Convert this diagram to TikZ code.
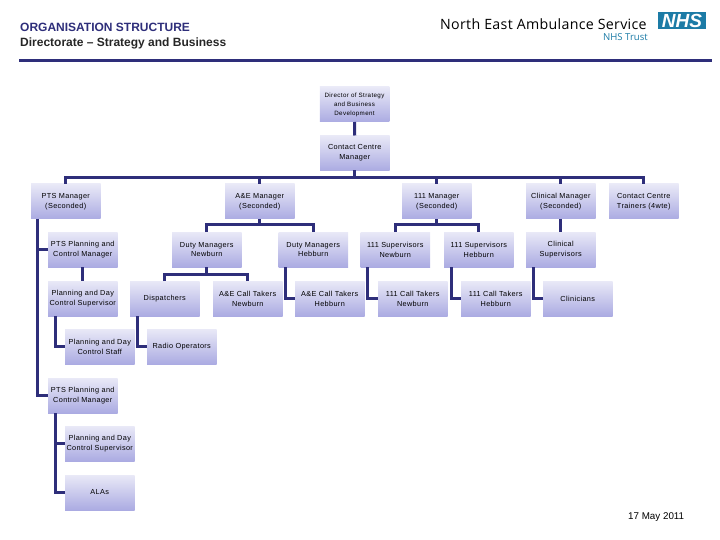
\documentclass[tikz,border=0pt]{standalone}
\usepackage{fontspec}
\setmainfont{Liberation Sans}
\newfontfamily\logofont{Open Sans}
\definecolor{navy}{HTML}{2E2E7A}
\definecolor{topc}{HTML}{E9E9F7}
\definecolor{botc}{HTML}{ABABE2}
\definecolor{nhs}{HTML}{1C7BA6}
\begin{document}
\begin{tikzpicture}[x=1pt,y=-1pt,
  box/.style={inner sep=0pt,outer sep=0pt,minimum width=69.5pt,minimum height=35pt,top color=topc,bottom color=botc,shading angle=0,align=center,font=\fontsize{7.3}{9.9}\selectfont\addfontfeatures{LetterSpace=5},text=black},
  smallbox/.style={box,font=\fontsize{6.2}{9}\selectfont\addfontfeatures{LetterSpace=6}},
  conn/.style={draw=navy,line width=3pt,line cap=butt,line join=miter},
  rulel/.style={draw=navy,line width=3pt}]
\useasboundingbox (0,0) rectangle (720,540);
\node[anchor=west,inner sep=0pt,font=\bfseries\fontsize{12}{14}\selectfont,text=navy] (t1) at (20,27.5) {ORGANISATION STRUCTURE};
\node[anchor=west,inner sep=0pt,font=\bfseries\fontsize{12}{14}\selectfont,text=black!85] (t2) at (20,43.2) {Directorate – Strategy and Business};
\coordinate (ruleL) at (19,60.5);
\coordinate (ruleR) at (712,60.5);
\draw[rulel] (ruleL) -- (ruleR);
\node[anchor=west,inner sep=0pt,font=\logofont\fontsize{14.2}{16}\selectfont\addfontfeatures{LetterSpace=2.2},text=black] (org) at (440,24.5) {North East Ambulance Service};
\node[anchor=east,inner sep=0pt,font=\logofont\fontsize{9.6}{10}\selectfont,text=nhs] (trust) at (648,37.5) {NHS Trust};
\node[fill=nhs,inner sep=0pt,minimum width=48pt,minimum height=17pt,text=white,font=\bfseries\itshape\fontsize{19}{17}\selectfont] (logo) at (682,20.5) {NHS};
% nodes
\newcommand{\bx}[4]{\node[box] (#1) at (#2+34.75,#3+17.5) {#4};}
\node[smallbox] (dir) at (354.5,104.5) {Director of Strategy\\and Business\\Development};
\bx{ccm}{320}{135.5}{Contact Centre\\Manager}
\bx{ptsm}{31}{184}{PTS Manager\\(Seconded)}
\bx{aem}{225}{184}{A\&E Manager\\(Seconded)}
\bx{oom}{402}{184}{111 Manager\\(Seconded)}
\bx{clm}{526}{184}{Clinical Manager\\(Seconded)}
\bx{cct}{609}{184}{Contact Centre\\Trainers (4wte)}
\bx{pcm}{48}{232}{PTS Planning and\\Control Manager}
\bx{dmn}{172}{232}{Duty Managers\\Newburn}
\bx{dmh}{278.5}{232}{Duty Managers\\Hebburn}
\bx{osn}{360.5}{232}{111 Supervisors\\Newburn}
\bx{osh}{444}{232}{111 Supervisors\\Hebburn}
\bx{cls}{526}{232}{Clinical\\Supervisors}
\bx{pds}{48}{281}{Planning and Day\\Control Supervisor}
\bx{dis}{130}{281}{Dispatchers}
\bx{acn}{213}{281}{A\&E Call Takers\\Newburn}
\bx{ach}{295}{281}{A\&E Call Takers\\Hebburn}
\bx{ocn}{378}{281}{111 Call Takers\\Newburn}
\bx{och}{461}{281}{111 Call Takers\\Hebburn}
\bx{cli}{543}{281}{Clinicians}
\bx{pdt}{65}{329}{Planning and Day\\Control Staff}
\bx{rad}{147}{329}{Radio Operators}
\bx{pcb}{48}{378}{PTS Planning and\\Control Manager}
\bx{psb}{65}{426}{Planning and Day\\Control Supervisor}
\bx{ala}{65}{475}{ALAs}
% connectors
\draw[conn] (dir.south) -- (ccm.north);
\foreach \n in {ptsm,aem,oom,clm,cct} \draw[conn] (\n.north) -- ++(0,-6) -| (ccm.south);
\draw[conn] ([xshift=6.5pt]ptsm.south west) |- (pcm.west);
\draw[conn] ([xshift=6.5pt]ptsm.south west) |- (pcb.west);
\draw[conn] (pcm.south) -- (pds.north);
\draw[conn] ([xshift=7pt]pds.south west) |- (pdt.west);
\draw[conn] ([xshift=7pt]pcb.south west) |- (psb.west);
\draw[conn] ([xshift=7pt]pcb.south west) |- (ala.west);
\foreach \n in {dmn,dmh} \draw[conn] (\n.north) -- ++(0,-7) -| (aem.south);
\foreach \n in {dis,acn} \draw[conn] (\n.north) -- ++(0,-7) -| (dmn.south);
\draw[conn] ([xshift=7pt]dis.south west) |- (rad.west);
\draw[conn] ([xshift=7pt]dmh.south west) |- (ach.west);
\foreach \n in {osn,osh} \draw[conn] (\n.north) -- ++(0,-7) -| (oom.south);
\draw[conn] (clm.south) -- (cls.north);
\draw[conn] ([xshift=7pt]osn.south west) |- (ocn.west);
\draw[conn] ([xshift=7pt]osh.south west) |- (och.west);
\draw[conn] ([xshift=7pt]cls.south west) |- (cli.west);
\node[anchor=west,inner sep=0pt,font=\fontsize{9.8}{11}\selectfont,text=black] (date) at (628,517.5) {17 May 2011};
\end{tikzpicture}
\end{document}
